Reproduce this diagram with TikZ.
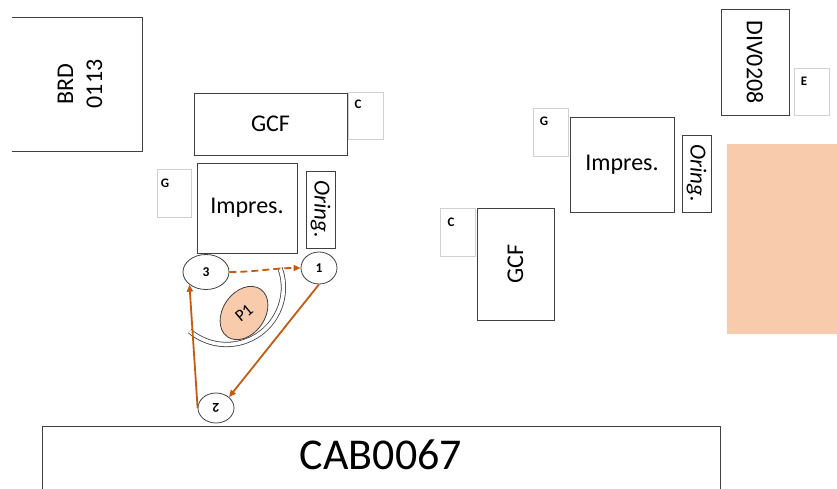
\documentclass[tikz,border=0pt]{standalone}
\usepackage{fontspec}
\setmainfont{Carlito}
\usetikzlibrary{arrows.meta,shapes.geometric}
\definecolor{bordc}{HTML}{404040}
\definecolor{lightc}{HTML}{D0D0D0}
\definecolor{arrc}{HTML}{C55A11}
\definecolor{salm}{HTML}{F8CBAD}
\begin{document}
\begin{tikzpicture}[x=1pt,y=-1pt,
  box/.style={draw=bordc, line width=0.9pt, inner sep=0pt, outer sep=0pt, fill=white},
  lbox/.style={draw=lightc, line width=0.9pt, inner sep=0pt, outer sep=0pt, fill=white},
  big/.style={font=\fontsize{24}{29}\selectfont, inner sep=0pt},
  ital/.style={font=\fontsize{23}{28}\selectfont\itshape, inner sep=0pt},
  small/.style={font=\fontsize{13}{15}\selectfont\bfseries, inner sep=0pt},
  ell/.style={ellipse, draw=bordc, line width=0.8pt, fill=white, inner sep=0pt, font=\fontsize{13.5}{15}\selectfont\bfseries},
  arr/.style={draw=arrc, line width=1.8pt, -{Triangle[length=7pt,width=6pt]}}
]
\useasboundingbox (0,0) rectangle (837,488);

% BRD 0113 (open on the left)
\node[inner sep=0pt, outer sep=0pt, minimum width=130pt, minimum height=134pt] (brd) at (77,84) {};
\draw[draw=bordc, line width=0.9pt] (brd.north west) -- (brd.north east) -- (brd.south east) -- (brd.south west);
\node[big, rotate=90, align=center] (brdt) at (80,84) {BRD\\0113};

% left cluster
\node[box, minimum width=153pt, minimum height=62pt] (gcf1) at (270.5,124) {};
\node[big] (gcf1t) at (gcf1.center) {GCF};
\node[lbox, minimum width=35pt, minimum height=47pt] (c1) at (365.5,115.5) {};
\node[small] (c1t) at ([xshift=10pt,yshift=-12pt]c1.north west) {C};
\node[lbox, minimum width=34pt, minimum height=48pt] (g1) at (174,193) {};
\node[small] (g1t) at ([xshift=8pt,yshift=-14pt]g1.north west) {G};
\node[box, minimum width=100pt, minimum height=90pt] (imp1) at (247,208) {};
\node[big] (imp1t) at (imp1.center) {Impres.};
\node[box, minimum width=29pt, minimum height=77pt] (or1) at (320.5,209.5) {};
\node[ital, rotate=-90] (or1t) at (or1.center) {Oring.};

% right cluster
\node[lbox, minimum width=35pt, minimum height=48pt] (c2) at (457.5,232) {};
\node[small] (c2t) at ([xshift=11pt,yshift=-14pt]c2.north west) {C};
\node[box, minimum width=77pt, minimum height=112pt] (gcf2) at (515.5,264) {};
\node[big, rotate=90] (gcf2t) at (gcf2.center) {GCF};
\node[lbox, minimum width=35pt, minimum height=48pt] (g2) at (550.5,132) {};
\node[small] (g2t) at ([xshift=11pt,yshift=-13pt]g2.north west) {G};
\node[box, minimum width=104pt, minimum height=95pt] (imp2) at (622,164.5) {};
\node[big] (imp2t) at (imp2.center) {Impres.};
\node[box, minimum width=29pt, minimum height=77pt] (or2) at (696.5,173.5) {};
\node[ital, rotate=-90] (or2t) at (or2.center) {Oring.};
\node[box, minimum width=68pt, minimum height=106pt] (div) at (755,62) {};
\node[big, rotate=-90] (divt) at (div.center) {DIV0208};
\node[lbox, minimum width=35pt, minimum height=47pt] (e) at (811.5,91.5) {};
\node[small] (et) at ([xshift=10pt,yshift=-13pt]e.north west) {E};
\node[fill=salm, inner sep=0pt, outer sep=0pt, minimum width=112pt, minimum height=190pt] (sal) at (783,239) {};

% CAB0067 (cut at bottom)
\node[inner sep=0pt, outer sep=0pt, minimum width=678pt, minimum height=70pt] (cab) at (381,461) {};
\draw[draw=bordc, line width=0.9pt] (cab.south west) -- (cab.north west) -- (cab.north east) -- (cab.south east);
\node[font=\fontsize{44}{50}\selectfont, inner sep=0pt] (cabt) at (381,455) {CAB0067};

% circulation
\coordinate (p1c) at (244,313);
\draw[draw=bordc, line width=0.8pt, fill=salm, rotate around={55:(p1c)}] (p1c) ellipse[x radius=29, y radius=21];
\node[font=\fontsize{17}{20}\selectfont, rotate=40, inner sep=0pt] (p1t) at (p1c) {P1};
\coordinate (arcs) at (280,268);
\draw[draw=bordc, line width=0.8pt, double=white, double distance=3.6pt] (arcs) arc[start angle=-20, end angle=130, radius=57];

\node[ell, minimum width=46pt, minimum height=35pt] (n3) at (206,272) {3};
\node[ell, minimum width=36pt, minimum height=32pt] (n1) at (319,268) {1};
\node[ell, minimum width=36pt, minimum height=30pt] (n2) at (216,408) {\rotatebox{180}{2}};

\draw[arr, dash pattern=on 7pt off 4pt] (n3.east) to[out=0, in=180] (n1.west);
\draw[arr] (n1.south) -- (n2.north east);
\draw[arr] (n2.west) -- (n3.south west);
\end{tikzpicture}
\end{document}
